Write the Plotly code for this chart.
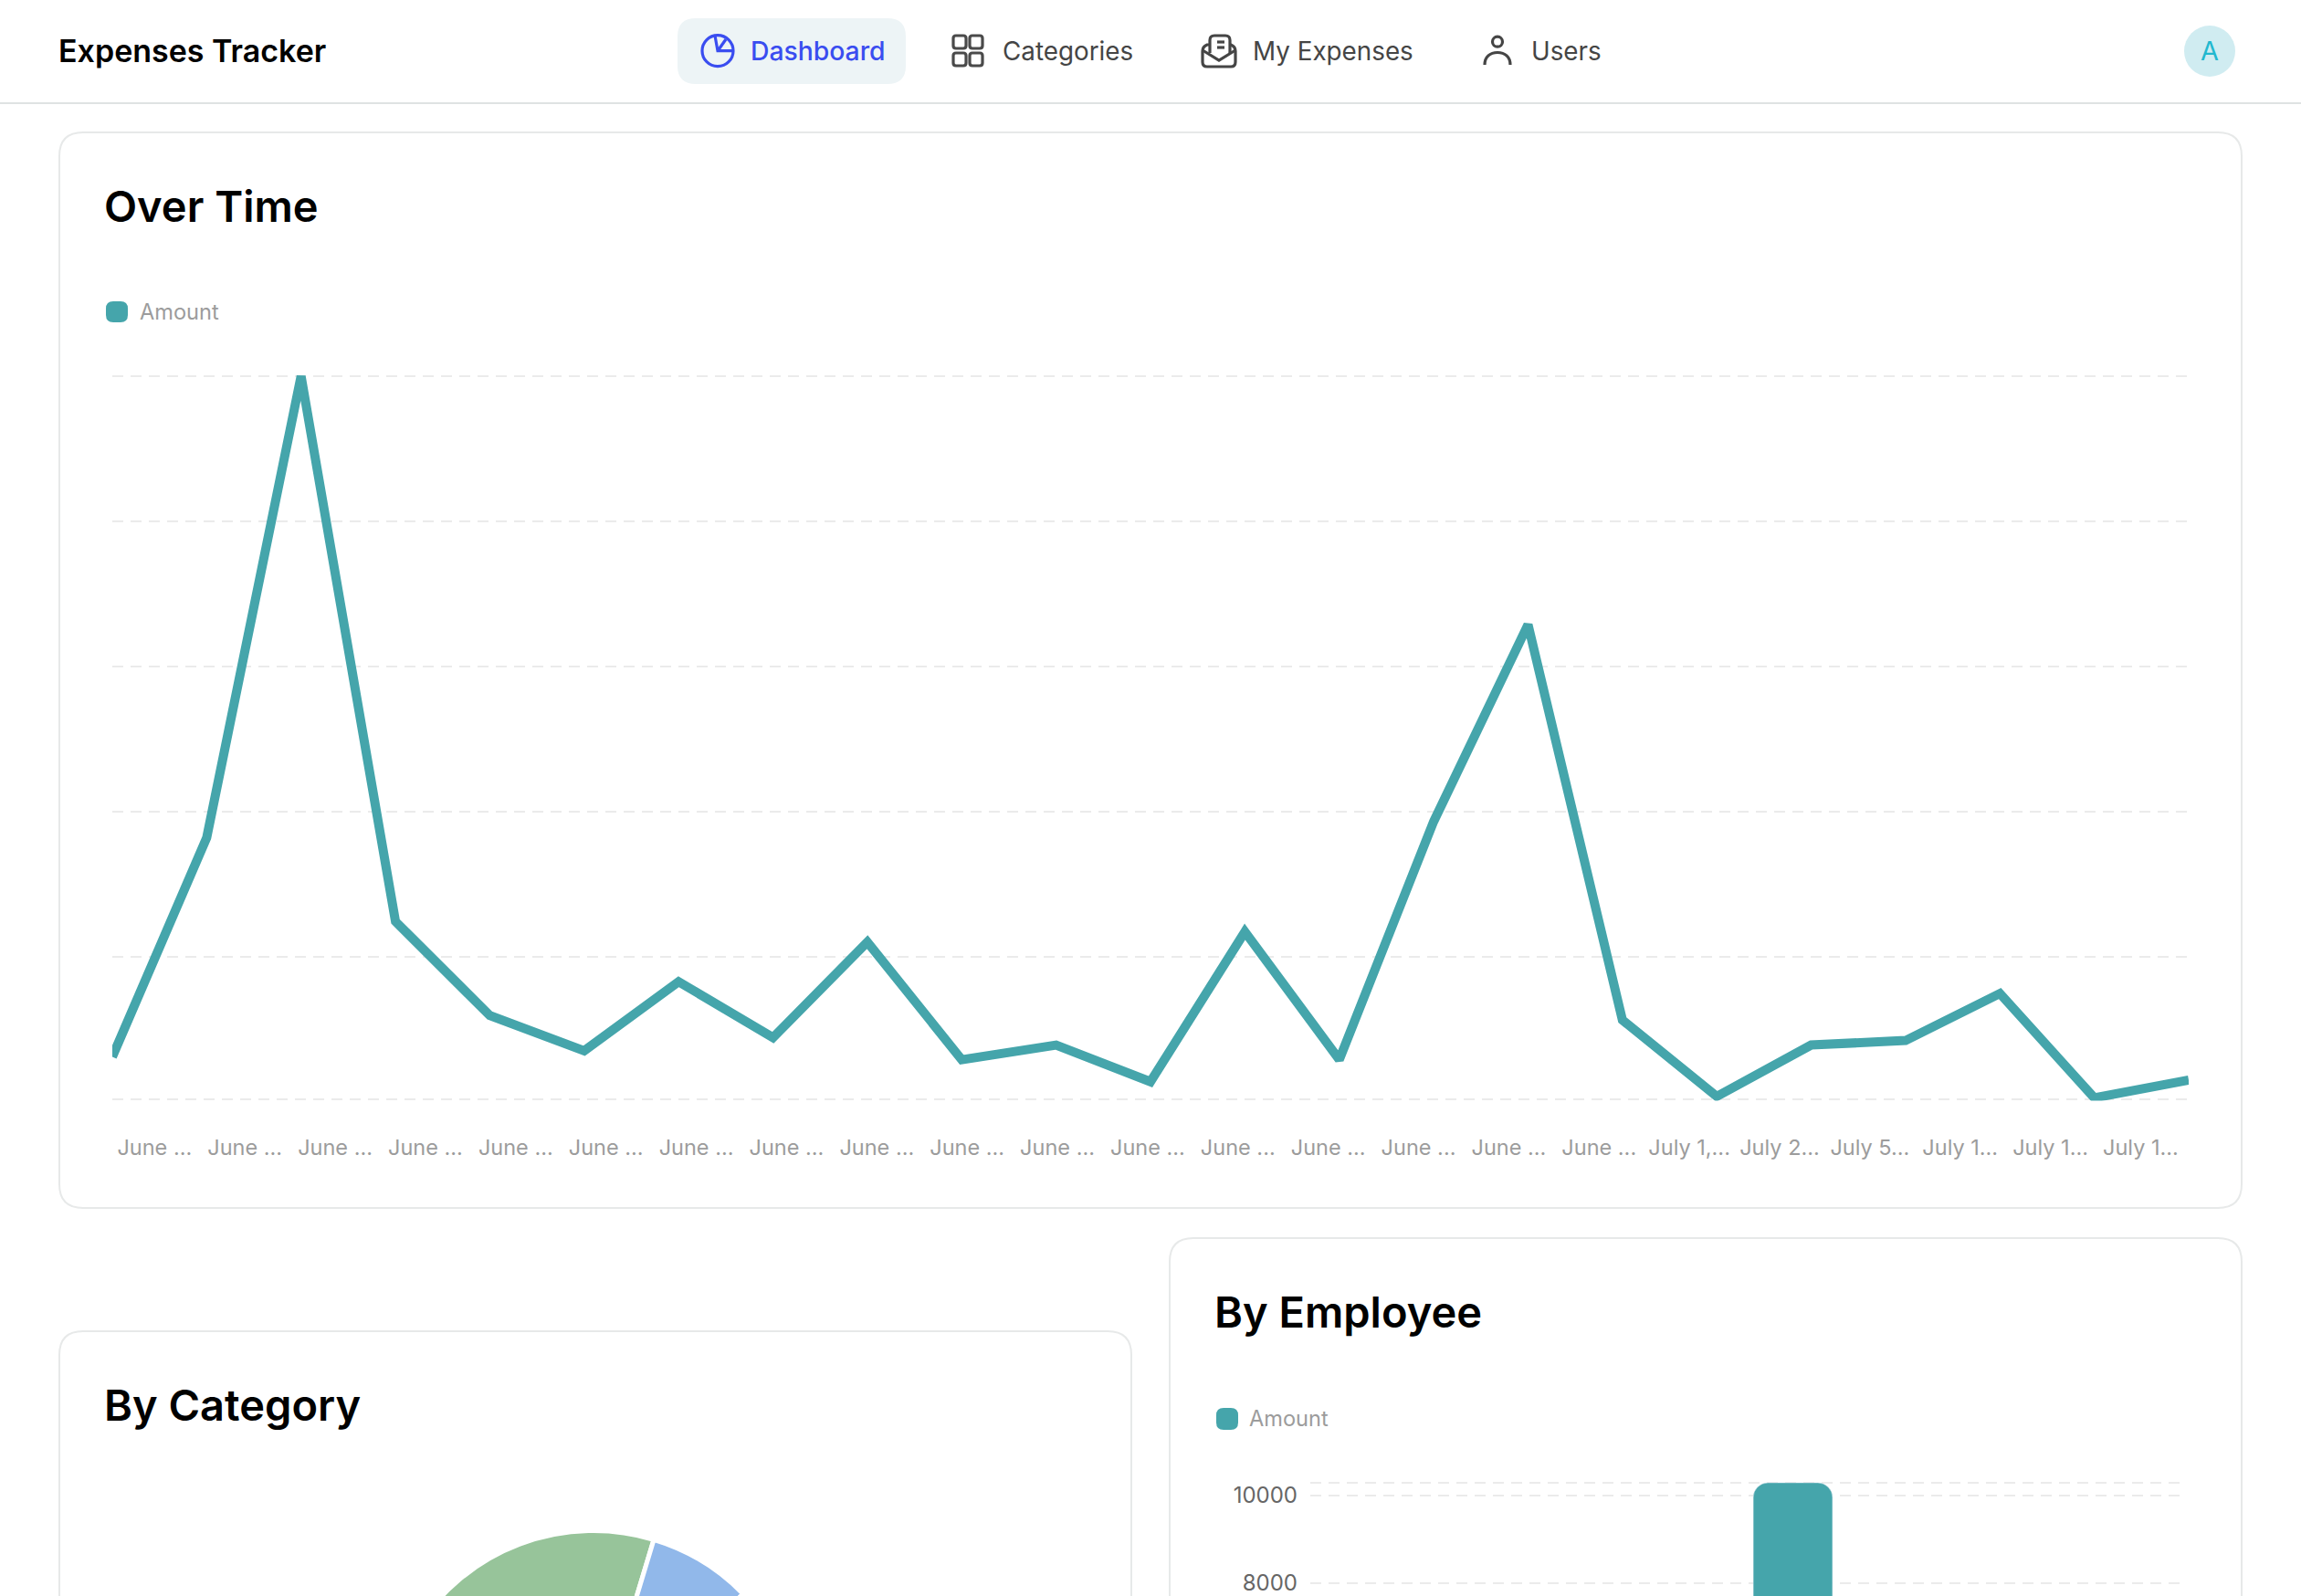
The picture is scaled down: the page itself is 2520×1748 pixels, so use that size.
import plotly.graph_objects as go

W = 2520
H = 2400  # the page carries on below the fold, window only shows 1748

# line chart values (y axis is hidden in the original, scale estimated)
over_time_labels = ["June ..."] * 17 + ["July 1,...", "July 2...", "July 5...", "July 1...", "July 1...", "July 1..."]
over_time_amount = [313, 1821, 5000, 1245, 597, 354, 830, 445, 1103, 293, 394, 141,
                    1174, 293, 1933, 3289, 566, 40, 394, 425, 749, 30, 152]
over_time_grid = [20, 1000, 2000, 3000, 4000, 5000]

# only the top of these is visible
category_names = ["Category A", "Category B", "Rest"]
category_values = [75, 29, 256]
category_colors = ["#97c49a", "#91b8ea", "#ffffff"]

employee_pos = [5]
employee_amount = [10290]
employee_ticks = [8000, 10000, 10290]
employee_ticktext = ["8000", "10000", ""]

nav_items = [("Dashboard", 822, "#3a4df0"), ("Categories", 1098, "#454545"),
             ("My Expenses", 1372, "#454545"), ("Users", 1677, "#454545")]

TEAL = "#45a5ab"
FONT = "Inter"
GRID = "#ebebeb"


def fx(x):
    return x / W


def fy(y):
    return 1 - y / H


def path(d):
    # pixel path string -> paper coords
    out = []
    is_x = True
    for tok in d.split():
        if tok.isalpha():
            out.append(tok)
        else:
            out.append(str(fx(float(tok)) if is_x else fy(float(tok))))
            is_x = not is_x
    return " ".join(out)


def rrect(x0, y0, x1, y1, r):
    return (f"M {x0 + r} {y0} L {x1 - r} {y0} Q {x1} {y0} {x1} {y0 + r} L {x1} {y1 - r} "
            f"Q {x1} {y1} {x1 - r} {y1} L {x0 + r} {y1} Q {x0} {y1} {x0} {y1 - r} "
            f"L {x0} {y0 + r} Q {x0} {y0} {x0 + r} {y0} Z")


def box(fig, x0, y0, x1, y1, r, fill="rgba(0,0,0,0)", line="rgba(0,0,0,0)", width=0):
    fig.add_shape(type="path", xref="paper", yref="paper", path=path(rrect(x0, y0, x1, y1, r)),
                  fillcolor=fill, line=dict(color=line, width=width), layer="below")


def icon(fig, d, color, width=3.2):
    fig.add_shape(type="path", xref="paper", yref="paper", path=path(d),
                  line=dict(color=color, width=width), layer="above")


def ring(fig, cx, cy, r, color, width=3.2, fill="rgba(0,0,0,0)"):
    fig.add_shape(type="circle", xref="paper", yref="paper",
                  x0=fx(cx - r), x1=fx(cx + r), y0=fy(cy + r), y1=fy(cy - r),
                  line=dict(color=color, width=width), fillcolor=fill, layer="above")


def text(fig, s, x, y, size, color, weight=400, anchor="left"):
    fig.add_annotation(text=s, x=fx(x), y=fy(y), xref="paper", yref="paper", showarrow=False,
                       xanchor=anchor, yanchor="middle", align="left",
                       font=dict(family=FONT, size=size, color=color, weight=weight),
                       borderpad=0, borderwidth=0)


fig = go.Figure()

fig.add_trace(go.Scatter(
    x=list(range(len(over_time_amount))), y=over_time_amount, mode="lines", name="Amount",
    line=dict(color=TEAL, width=10), xaxis="x", yaxis="y", hoverinfo="x+y"))

fig.add_trace(go.Pie(
    labels=category_names, values=category_values, sort=False, direction="clockwise",
    rotation=-58.2, textinfo="none", showlegend=False,
    marker=dict(colors=category_colors, line=dict(color="#ffffff", width=5)),
    domain=dict(x=[fx(421.5), fx(878.5)], y=[fy(2133.5), fy(1676.5)])))

fig.add_trace(go.Bar(
    x=employee_pos, y=employee_amount, name="Amount", marker=dict(color=TEAL),
    width=0.91, xaxis="x2", yaxis="y2"))

# cards
box(fig, 65, 145, 2455, 1323, 26, fill="#ffffff", line="#e7e9e9", width=2)
box(fig, 65, 1458, 1239, 2380, 26, fill="#ffffff", line="#e7e9e9", width=2)
box(fig, 1281, 1356, 2455, 2380, 26, fill="#ffffff", line="#e7e9e9", width=2)

# header
fig.add_shape(type="line", xref="paper", yref="paper", x0=0, x1=1, y0=fy(113), y1=fy(113),
              line=dict(color="#dfe2e2", width=2), layer="below")
box(fig, 742, 20, 992, 92, 20, fill="#edf4f6")
text(fig, "Expenses Tracker", 64, 55, 34, "#000000", 600)
for label, x, color in nav_items:
    text(fig, label, x, 56, 28.3 if label == "Dashboard" else 27.8, color, 500 if label == "Dashboard" else 400)

# dashboard icon
ring(fig, 786, 55.7, 17, "#3a4df0")
icon(fig, "M 783 39 L 786 55.7 L 803 55.7", "#3a4df0")
icon(fig, "M 786 55.7 L 795 43", "#3a4df0")
# categories icon
for x0 in (1044, 1062):
    for y0 in (39, 58):
        icon(fig, rrect(x0, y0, x0 + 14, y0 + 14, 3), "#4a4a4a")
# my expenses icon
icon(fig, "M 1325 58 L 1325 44 Q 1325 39 1330 39 L 1342 39 Q 1347 39 1347 44 L 1347 58", "#454545")
icon(fig, "M 1325 49 L 1322 49 Q 1317 51 1317 56 L 1317 68 Q 1317 73 1322 73 L 1348 73 "
          "Q 1353 73 1353 68 L 1353 56 Q 1353 51 1348 49 L 1347 49", "#454545")
icon(fig, "M 1317 55 L 1335 66 L 1353 55", "#454545")
icon(fig, "M 1333 46 L 1341 46", "#454545")
icon(fig, "M 1333 52 L 1341 52", "#454545")
# users icon
ring(fig, 1640, 45.7, 5.5, "#454545")
icon(fig, "M 1626 71 C 1626 62 1632 57.5 1640 57.5 C 1648 57.5 1654 62 1654 71", "#454545")

# avatar
ring(fig, 2420, 56, 28, "rgba(0,0,0,0)", width=0, fill="#d0ecf1")
text(fig, "A", 2420, 56, 28.9, "#22b8cf", 400, anchor="center")

# card titles and legends
text(fig, "Over Time", 114, 225, 47, "#000000", 600)
text(fig, "By Category", 114, 1538.5, 47, "#000000", 600)
text(fig, "By Employee", 1330, 1436.5, 47, "#000000", 600)
box(fig, 116, 330, 140, 353, 8, fill=TEAL)
text(fig, "Amount", 152.5, 341, 23.6, "#9c9c9c")
box(fig, 1332, 1542, 1356, 1566, 8, fill=TEAL)
text(fig, "Amount", 1368, 1553, 23.6, "#9c9c9c")

n = len(over_time_labels)
last = len(over_time_amount) - 1

fig.update_layout(
    width=W, height=H, margin=dict(l=0, r=0, t=0, b=0, autoexpand=False), autosize=False,
    paper_bgcolor="#ffffff", plot_bgcolor="rgba(0,0,0,0)", showlegend=False,
    font=dict(family=FONT), barcornerradius=16,
    xaxis=dict(domain=[fx(123), fx(2397)], range=[0, last], anchor="y", showgrid=False, zeroline=False,
               tickmode="array", tickvals=[(i + 0.5) * last / n - 0.03 for i in range(n)],
               ticktext=over_time_labels, tickangle=0, ticks="", ticklabelstandoff=35,
               tickfont=dict(family=FONT, size=23.5, color="#9c9c9c")),
    # range runs a touch past the first and last grid line or plotly drops them
    yaxis=dict(domain=[fy(1205.6), fy(410.4)], range=[10, 5010], anchor="x", showticklabels=False,
               zeroline=False, tickmode="array", tickvals=over_time_grid, ticks="",
               gridcolor=GRID, gridwidth=2, griddash="12px,8px"),
    xaxis2=dict(domain=[fx(1435), fx(2389)], range=[-0.54, 9.46], anchor="y2", visible=False),
    yaxis2=dict(domain=[fy(2118), fy(1622.4)], range=[0, 10323], anchor="x2", zeroline=False,
                tickmode="array", tickvals=employee_ticks, ticktext=employee_ticktext, ticks="",
                ticklabelstandoff=13, gridcolor=GRID, gridwidth=2, griddash="12px,8px",
                tickfont=dict(family=FONT, size=24, color="#666666")),
)

fig.write_html("out.html", config={"displayModeBar": False},
               post_script="document.body.style.margin='0';document.documentElement.style.overflow='hidden';")
